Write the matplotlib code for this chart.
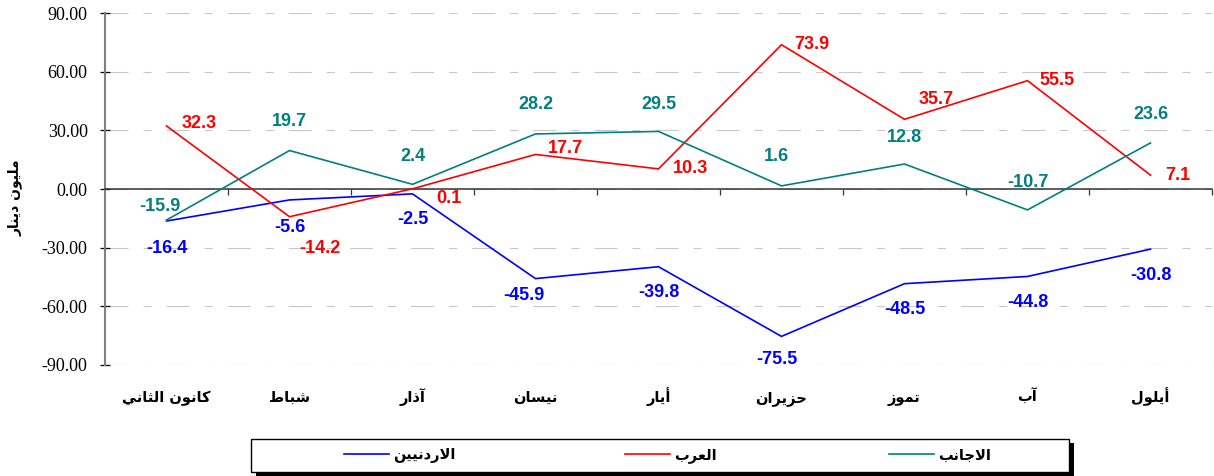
import matplotlib
matplotlib.use("Agg")
import matplotlib.pyplot as plt
from matplotlib.patches import Rectangle
from matplotlib.lines import Line2D
from matplotlib.ticker import FormatStrFormatter, FixedLocator

plt.rcParams['axes.unicode_minus'] = False
plt.rcParams['lines.scale_dashes'] = False

# ---------------- data ----------------
months = ["كانون الثاني", "شباط", "آذار", "نيسان", "أيار", "حزيران", "تموز", "آب", "أيلول"]
jordanians = [-16.4, -5.6, -2.5, -45.9, -39.8, -75.5, -48.5, -44.8, -30.8]
arabs = [32.3, -14.2, 0.1, 17.7, 10.3, 73.9, 35.7, 55.5, 7.1]
foreigners = [-15.9, 19.7, 2.4, 28.2, 29.5, 1.6, 12.8, -10.7, 23.6]
series_names = ["الاردنيين", "العرب", "الاجانب"]
y_label = "مليون دينار"
y_ticks = [-90, -60, -30, 0, 30, 60, 90]

# label offsets in pixels (dx, dy; dy positive = up)
off_j = [(0, -27), (0, -28), (0, -26), (-12, -17), (0, -26), (-5, -23), (0, -26), (0, -26), (0, -26)]
off_a = [(33, 2), (30, -32), (36, -10), (30, 6), (32, 0), (30, 0), (32, 20), (30, 0), (27, 0)]
off_f = [(-7, 14), (0, 29), (0, 28), (0, 29), (0, 27), (-5, 29), (0, 27), (0, 27), (0, 28)]

# ---------------- minimal Arabic shaping ----------------
FORMS = {
    'ا': ('\uFE8D', '\uFE8E', None, None),
    'أ': ('\uFE83', '\uFE84', None, None),
    'آ': ('\uFE81', '\uFE82', None, None),
    'ب': ('\uFE8F', '\uFE90', '\uFE91', '\uFE92'),
    'ت': ('\uFE95', '\uFE96', '\uFE97', '\uFE98'),
    'ث': ('\uFE99', '\uFE9A', '\uFE9B', '\uFE9C'),
    'ج': ('\uFE9D', '\uFE9E', '\uFE9F', '\uFEA0'),
    'ح': ('\uFEA1', '\uFEA2', '\uFEA3', '\uFEA4'),
    'د': ('\uFEA9', '\uFEAA', None, None),
    'ذ': ('\uFEAB', '\uFEAC', None, None),
    'ر': ('\uFEAD', '\uFEAE', None, None),
    'ز': ('\uFEAF', '\uFEB0', None, None),
    'س': ('\uFEB1', '\uFEB2', '\uFEB3', '\uFEB4'),
    'ش': ('\uFEB5', '\uFEB6', '\uFEB7', '\uFEB8'),
    'ط': ('\uFEC1', '\uFEC2', '\uFEC3', '\uFEC4'),
    'ع': ('\uFEC9', '\uFECA', '\uFECB', '\uFECC'),
    'ك': ('\uFED9', '\uFEDA', '\uFEDB', '\uFEDC'),
    'ل': ('\uFEDD', '\uFEDE', '\uFEDF', '\uFEE0'),
    'م': ('\uFEE1', '\uFEE2', '\uFEE3', '\uFEE4'),
    'ن': ('\uFEE5', '\uFEE6', '\uFEE7', '\uFEE8'),
    'و': ('\uFEED', '\uFEEE', None, None),
    'ي': ('\uFEF1', '\uFEF2', '\uFEF3', '\uFEF4'),
}
LAMALEF = {'ا': ('\uFEFB', '\uFEFC'), 'أ': ('\uFEF7', '\uFEF8'), 'آ': ('\uFEF5', '\uFEF6')}


def shape(text):
    chars = list(text)
    n = len(chars)
    out = []
    i = 0

    def joins_next(c):
        return c in FORMS and FORMS[c][2] is not None

    while i < n:
        c = chars[i]
        if c not in FORMS:
            out.append(c)
            i += 1
            continue
        prev = chars[i - 1] if i > 0 else None
        link_prev = prev is not None and joins_next(prev)
        if c == 'ل' and i + 1 < n and chars[i + 1] in LAMALEF:
            iso, fin = LAMALEF[chars[i + 1]]
            out.append(fin if link_prev else iso)
            i += 2
            continue
        nxt = chars[i + 1] if i + 1 < n else None
        link_next = joins_next(c) and nxt is not None and nxt in FORMS
        f = FORMS[c]
        if link_prev and link_next:
            g = f[3]
        elif link_prev:
            g = f[1]
        elif link_next:
            g = f[2]
        else:
            g = f[0]
        out.append(g)
        i += 1
    return ''.join(reversed(out))


AR_FONT = ['DejaVu Sans']
NUM_FONT = ['Liberation Sans', 'DejaVu Sans']
TICK_FONT = ['Liberation Serif', 'DejaVu Serif']

W, H = 1214, 476
fig = plt.figure(figsize=(W / 100, H / 100), dpi=100)
ax = fig.add_axes([105 / W, 1 - 364.7 / H, (1212 - 105) / W, (364.7 - 13.3) / H])

x = list(range(len(months)))
colors = ['#0000FF', '#FF0000', '#008080']
all_series = [jordanians, arabs, foreigners]
offsets = [off_j, off_a, off_f]

for vals, col, offs in zip(all_series, colors, offsets):
    ax.plot(x, vals, color=col, lw=1.2, zorder=3, solid_joinstyle='miter')
    for xi, v, (dx, dy) in zip(x, vals, offs):
        ax.annotate(f"{v:.1f}", (xi, v), xytext=(dx * 0.72, dy * 0.72),
                    textcoords='offset points', ha='center', va='center',
                    color=col, fontsize=13, fontweight='bold', family=NUM_FONT,
                    zorder=4)

ax.set_xlim(-0.5, len(months) - 0.5)
ax.set_ylim(-90, 90)

# y axis
ax.set_yticks(y_ticks, [f"{v:.2f}" for v in y_ticks], family=TICK_FONT, fontsize=13)
ax.tick_params(axis='y', direction='inout', length=7, width=0.9, color='black', pad=9)
ax.yaxis.grid(True, color='#c8c8c8', lw=0.8, linestyle=(0, (16.6, 10.8, 5.8, 10.8)))
ax.set_axisbelow(True)

# spines
ax.spines['top'].set_visible(False)
ax.spines['right'].set_visible(False)
ax.spines['left'].set_color('#808080')
ax.spines['left'].set_linewidth(1.5)
ax.spines['bottom'].set_position(('data', 0))
ax.spines['bottom'].set_color('#333333')
ax.spines['bottom'].set_linewidth(1.1)
ax.spines['bottom'].set_zorder(2.5)

# x ticks at category boundaries on the zero line
ax.set_xticks([])
ax.xaxis.set_minor_locator(FixedLocator([i + 0.5 for i in range(len(months))]))
ax.tick_params(axis='x', which='minor', direction='out', length=4.5, width=0.9, color='#333333')

# category labels at the bottom
sec = ax.secondary_xaxis(0.0)
sec.set_xticks(x, [shape(m) for m in months])
sec.tick_params(length=0, pad=27, labelsize=10.5)
for lab in sec.get_xticklabels():
    lab.set_family(AR_FONT)
    lab.set_fontweight('bold')
    lab.set_va('baseline')
sec.spines['bottom'].set_visible(False)

# y label
fig.text(15 / W, 1 - 198 / H, shape(y_label), rotation=90, ha='center', va='center',
         fontsize=10, fontweight='bold', family=AR_FONT)

# legend frame with shadow
bx0, by0, bx1, by1 = 251, 439, 1069, 472
fig.add_artist(Rectangle(((bx0 + 5) / W, 1 - (by1 + 4) / H), (bx1 - bx0) / W, (by1 - by0) / H,
                         transform=fig.transFigure, facecolor='black', edgecolor='none', zorder=1))
fig.add_artist(Rectangle((bx0 / W, 1 - by1 / H), (bx1 - bx0) / W, (by1 - by0) / H,
                         transform=fig.transFigure, facecolor='white', edgecolor='black', lw=1.0, zorder=2))

legend_x = [344, 625, 889]
for name, col, lx in zip(series_names, colors, legend_x):
    h = Line2D([], [], color=col, lw=1.2)
    leg = fig.legend([h], [shape(name)], loc='center left',
                     bbox_to_anchor=(lx / W, 1 - 455 / H), frameon=False,
                     borderpad=0, borderaxespad=0, handlelength=3.1, handletextpad=0.25,
                     prop={'family': AR_FONT, 'weight': 'bold', 'size': 10.5})
    leg.set_zorder(5)

fig.savefig('out.png', dpi=100)
